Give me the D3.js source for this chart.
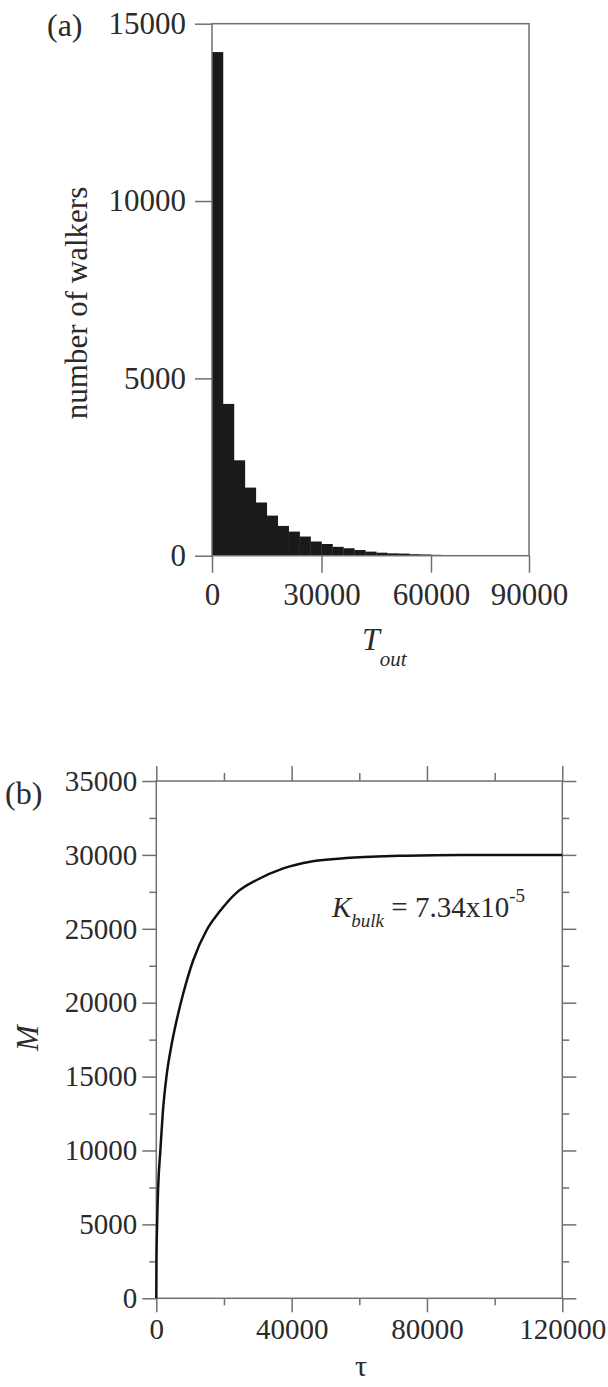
<!DOCTYPE html>
<html lang="en">
    <head>
        <meta charset="utf-8">
        <title>walkers</title>
        <script src="https://d3js.org/d3.v7.min.js"></script>
        <style>
            body { margin: 0; background: #fff; }
            text { font-family: "Liberation Serif", "Times New Roman", serif; fill: #2b2b2b; }
        </style>
    </head>
    <body>
        <script>

            // (a) histogram of T_out, bins of 3000
            var binWidth = 3000;
            var walkers = [14200, 4280, 2690, 1920, 1500, 1130, 840, 680, 540, 400,
                           330, 250, 210, 160, 115, 85, 66, 60, 42, 35,
                           25, 20, 15, 12, 10, 8, 6, 5, 4, 3];
            var aTicksX = [0, 30000, 60000, 90000];
            var aTicksY = [0, 5000, 10000, 15000];

            // (b) M versus tau
            var tau = [0, 50, 240, 550, 1200, 1900, 3000, 4550, 6030, 7980, 10940, 14900,
                       18830, 23760, 29670, 37540, 45430, 57250, 74000, 90000, 120000];
            var M   = [0, 2500, 5000, 7500, 10000, 12500, 15000, 17200, 18830, 20640, 22890, 24920,
                       26200, 27450, 28300, 29090, 29540, 29800, 29950, 30000, 30000];
            var bTicksX = [0, 40000, 80000, 120000];
            var bMinorX = [20000, 60000, 100000];
            var bTicksY = [0, 5000, 10000, 15000, 20000, 25000, 30000, 35000];
            var bMinorY = [2500, 7500, 12500, 17500, 22500, 27500, 32500];

            var width = 608, height = 1387;
            var axisColor = "#707070";

            var svg = d3.select("body").append("svg")
                        .attr("width", width)
                        .attr("height", height)

            function styleAxis(size) {
                return function(g) {
                    g.attr("font-family", null).attr("font-size", null);
                    g.select(".domain").remove();
                    g.selectAll(".tick line").attr("stroke", axisColor).attr("stroke-width", 1.5);
                    g.selectAll(".tick text").attr("fill", "#2b2b2b").style("font-size", size + "px");
                };
            }

            // ---------- panel (a) ----------
            var xa = d3.scaleLinear().domain([0, 60000, 90000]).range([212, 431, 529]);
            var ya = d3.scaleLinear().domain([0, 15000]).range([555.7, 23.7]);

            svg.append("g").selectAll("rect").data(walkers).enter()
                .append("rect")
                .attr("x", function(d, i) { return xa(i * binWidth); })
                .attr("width", function(d, i) { return xa((i + 1) * binWidth) - xa(i * binWidth) + 0.3; })
                .attr("y", function(d) { return ya(d); })
                .attr("height", function(d) { return ya(0) - ya(d); })
                .style("fill", "#1a1a1a")

            svg.append("rect")
                .attr("x", xa(0)).attr("y", ya(15000))
                .attr("width", xa(90000) - xa(0)).attr("height", ya(0) - ya(15000))
                .attr("fill", "none").attr("stroke", axisColor).attr("stroke-width", 1.5)

            svg.append("g")
                .attr("transform", "translate(" + xa(0) + ",0)")
                .call(d3.axisLeft(ya).tickValues(aTicksY).tickFormat(d3.format("d")).tickSize(17).tickPadding(9))
                .call(styleAxis(31))

            svg.append("g")
                .attr("transform", "translate(0," + ya(0) + ")")
                .call(d3.axisBottom(xa).tickValues(aTicksX).tickFormat(d3.format("d")).tickSize(17).tickPadding(10))
                .call(styleAxis(31))

            svg.append("text").attr("x", 47).attr("y", 36)
                .style("font-size", "32px").text("(a)")

            svg.append("text")
                .attr("transform", "translate(87,303) rotate(-90)")
                .attr("text-anchor", "middle")
                .style("font-size", "31px")
                .text("number of walkers")

            var tl = svg.append("text").attr("x", 362).attr("y", 650)
                .style("font-size", "32px").style("font-style", "italic")
            tl.append("tspan").text("T")
            tl.append("tspan").attr("dy", 16).style("font-size", "21px").text("out")

            // ---------- panel (b) ----------
            var xb = d3.scaleLinear().domain([0, 120000]).range([156.3, 562.3]);
            var yb = d3.scaleLinear().domain([0, 35000]).range([1298.3, 781]);

            svg.append("rect")
                .attr("x", xb(0)).attr("y", yb(35000))
                .attr("width", xb(120000) - xb(0)).attr("height", yb(0) - yb(35000))
                .attr("fill", "none").attr("stroke", axisColor).attr("stroke-width", 1.5)

            var fmt = d3.format("d");
            var none = function() { return ""; };

            // left
            svg.append("g").attr("transform", "translate(" + xb(0) + ",0)")
                .call(d3.axisLeft(yb).tickValues(bTicksY).tickFormat(fmt).tickSize(14).tickPadding(5))
                .call(styleAxis(29))
            svg.append("g").attr("transform", "translate(" + xb(0) + ",0)")
                .call(d3.axisLeft(yb).tickValues(bMinorY).tickFormat(none).tickSize(7))
                .call(styleAxis(29))
            // right
            svg.append("g").attr("transform", "translate(" + xb(120000) + ",0)")
                .call(d3.axisRight(yb).tickValues(bTicksY).tickFormat(none).tickSize(14))
                .call(styleAxis(29))
            svg.append("g").attr("transform", "translate(" + xb(120000) + ",0)")
                .call(d3.axisRight(yb).tickValues(bMinorY).tickFormat(none).tickSize(7))
                .call(styleAxis(29))
            // bottom
            svg.append("g").attr("transform", "translate(0," + yb(0) + ")")
                .call(d3.axisBottom(xb).tickValues(bTicksX).tickFormat(fmt).tickSize(14).tickPadding(6))
                .call(styleAxis(29))
            svg.append("g").attr("transform", "translate(0," + yb(0) + ")")
                .call(d3.axisBottom(xb).tickValues(bMinorX).tickFormat(none).tickSize(7))
                .call(styleAxis(29))
            // top
            svg.append("g").attr("transform", "translate(0," + yb(35000) + ")")
                .call(d3.axisTop(xb).tickValues(bTicksX).tickFormat(none).tickSize(15))
                .call(styleAxis(29))
            svg.append("g").attr("transform", "translate(0," + yb(35000) + ")")
                .call(d3.axisTop(xb).tickValues(bMinorX).tickFormat(none).tickSize(8))
                .call(styleAxis(29))

            var line = d3.line()
                .x(function(d, i) { return xb(tau[i]); })
                .y(function(d) { return yb(d); })
                .curve(d3.curveMonotoneX)

            svg.append("path").datum(M)
                .attr("d", line)
                .attr("fill", "none")
                .attr("stroke", "#111")
                .attr("stroke-width", 2.5)

            svg.append("text").attr("x", 5).attr("y", 804)
                .style("font-size", "32px").text("(b)")

            svg.append("text")
                .attr("transform", "translate(38,1038) rotate(-90)")
                .attr("text-anchor", "middle")
                .style("font-size", "31px").style("font-style", "italic")
                .text("M")

            svg.append("text").attr("x", 361).attr("y", 1376)
                .attr("text-anchor", "middle")
                .style("font-size", "30px")
                .text("τ")

            var kt = svg.append("text").attr("x", 332).attr("y", 917).style("font-size", "29px")
            kt.append("tspan").style("font-style", "italic").text("K")
            kt.append("tspan").attr("dy", 10).style("font-style", "italic").style("font-size", "19px").text("bulk")
            kt.append("tspan").attr("dy", -10).text(" = 7.34x10")
            kt.append("tspan").attr("dy", -15).style("font-size", "19px").text("-5")

        </script>
    </body>
</html>
